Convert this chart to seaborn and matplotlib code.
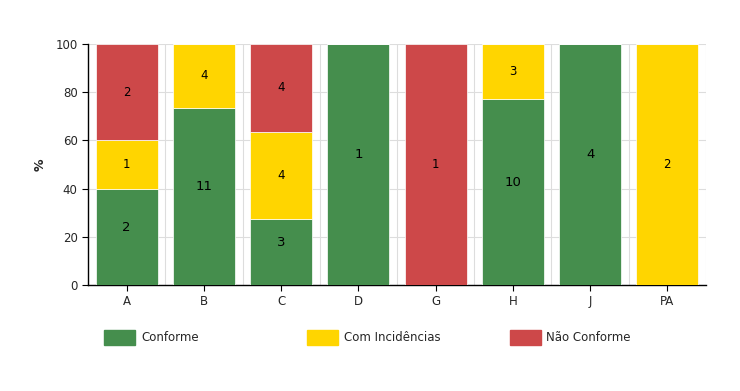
import numpy as np
import pandas as pd
import matplotlib
matplotlib.use("Agg")
import matplotlib.pyplot as plt
import seaborn as sns
from matplotlib.patches import Patch

## Data
categorias = ["A", "B", "C", "D", "G", "H", "J", "PA"]
conforme = [2, 11, 3, 1, 0, 10, 4, 0]
com_incidencias = [1, 4, 4, 0, 0, 3, 0, 2]
nao_conforme = [2, 0, 4, 0, 1, 0, 0, 0]

series = ["Conforme", "Com Incidências", "Não Conforme"]
cores = ["#458E4D", "#FFD500", "#CD4849"]

counts = pd.DataFrame(
    {"Conforme": conforme, "Com Incidências": com_incidencias, "Não Conforme": nao_conforme},
    index=categorias,
)
pct = counts.div(counts.sum(axis=1), axis=0) * 100

## Plot
sns.set_style("white")
plt.rcParams["font.family"] = ["DejaVu Sans"]

fig = plt.figure(figsize=(7.4, 3.91), dpi=100)
ax = fig.add_axes([0.119, 0.271, 0.835, 0.617])

bottom = np.zeros(len(categorias))
for i, (s, c) in enumerate(zip(series, cores)):
    sns.barplot(
        x=categorias, y=pct[s].values, color=c, bottom=bottom, saturation=1,
        width=0.8, edgecolor="white", linewidth=0.5, ax=ax, zorder=3,
    )
    cont = ax.containers[-1]
    labels = [str(v) if v > 0 else "" for v in counts[s].values]
    # green labels are a bit bigger and sit slightly higher in the original
    fs = 9.5 if i == 0 else 8.5
    anns = ax.bar_label(cont, labels=labels, label_type="center", fontsize=fs, color="black")
    if i == 0:
        for a in anns:
            a.xyann = (0, 7)
    bottom = bottom + pct[s].values

ax.set_xlim(-0.5, 7.5)
ax.set_ylim(0, 100)
ax.set_yticks(range(0, 101, 20))
ax.set_xticks(range(len(categorias)))
ax.set_xticklabels(categorias)
ax.set_xticks(np.arange(0.5, 8, 1), minor=True)
ax.grid(axis="y", color="#DDDDDD", linewidth=0.8, zorder=0)
ax.grid(axis="x", which="minor", color="#DDDDDD", linewidth=0.8, zorder=0)
ax.grid(axis="x", which="major", visible=False)
ax.tick_params(axis="x", which="minor", length=0)
ax.tick_params(axis="both", which="major", length=4, width=0.8, color="black",
               labelsize=8.5, direction="out", left=True, bottom=True)

for side in ["top", "right"]:
    ax.spines[side].set_visible(False)
for side in ["left", "bottom"]:
    ax.spines[side].set_color("black")
    ax.spines[side].set_linewidth(1)

ax.set_ylabel("%", fontsize=9, fontweight="bold", labelpad=6)
ax.set_xlabel("")

## Legend
posicoes = [0.141, 0.415, 0.689]
for s, c, x in zip(series, cores, posicoes):
    fig.legend(
        handles=[Patch(facecolor=c, edgecolor=c)], labels=[s],
        loc="center left", bbox_to_anchor=(x, 0.137), frameon=False,
        handlelength=2.6, handleheight=1.5, handletextpad=0.5,
        borderpad=0, borderaxespad=0, fontsize=8.5,
    )

plt.savefig("out.png", dpi=100)
